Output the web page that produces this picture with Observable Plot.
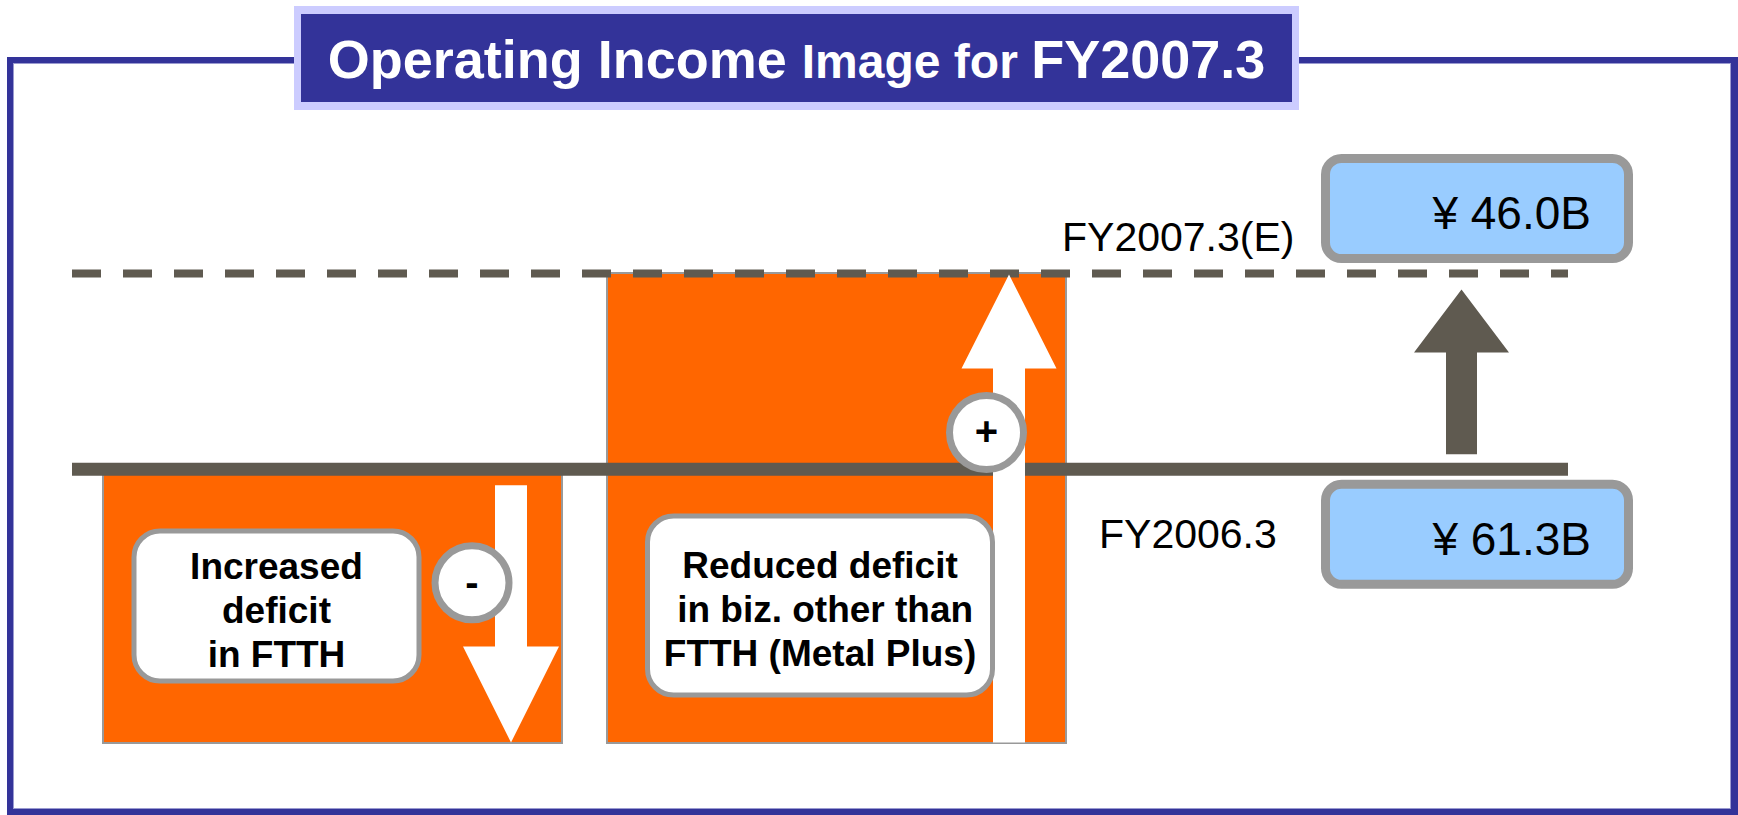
<!DOCTYPE html>
<html>
<head>
<meta charset="utf-8">
<script src="https://cdn.jsdelivr.net/npm/d3@7"></script>
<script src="https://cdn.jsdelivr.net/npm/@observablehq/plot@0.6"></script>
<style>
  html, body { margin: 0; padding: 0; background: #fff; }
  #wrap { position: relative; width: 1738px; height: 815px; overflow: hidden;
          font-family: "Liberation Sans", Arial, Helvetica, sans-serif; }
  #chart { position: absolute; left: 0; top: 0; }
  #frame { position: absolute; left: 7px; top: 57px; width: 1731px; height: 758px;
           box-sizing: border-box; border: 6px solid #333399; border-right-width: 7px;
           box-shadow: inset 0 0 0 1px #9a9ad0; pointer-events: none; }
  #title { position: absolute; left: 294px; top: 6px; width: 1005px; height: 104px;
           box-sizing: border-box; border: 7px solid #CCCCFF; border-top-width: 8px; border-bottom-width: 8px;
           background: #333399; color: #fff; font-weight: bold; text-align: center;
           line-height: 86px; padding-top: 2px; white-space: nowrap; }
  #title .big { font-size: 54px; }
  #title .small { font-size: 48px; }
</style>
</head>
<body>
<div id="wrap">
  <div id="chart"></div>
  <div id="frame"></div>
  <div id="title"></div>
</div>
<script>
// ---------------- data ----------------
const titleParts = ["Operating Income ", "Image for ", "FY2007.3"];
const titleSizes = ["big", "small", "big"];

const periods = ["FY2006.3", "FY2007.3(E)"];
const incomeValues = [61.3, 46.0];          // ¥ billions
const periodLevels = [0, 1.0];              // schematic "image" level of each period line

const columns = ["FTTH", "Other", "Total"];
const factors = ["Increased\ndeficit\nin FTTH", "Reduced deficit\n in biz. other than\nFTTH (Metal Plus)"];
const factorSigns = ["-", "+"];
const factorChanges = [-1.4, 2.4];          // schematic size of each factor

// ---------------- tables built from the data ----------------
let level = periodLevels[0];
const steps = factors.map((label, i) => {
  const from = level;
  level += factorChanges[i];
  return {col: columns[i], label, sign: factorSigns[i], from, to: level,
          lo: Math.min(from, level), hi: Math.max(from, level)};
});
const ends = periods.map((p, i) => ({
  col: columns[2], period: p, level: periodLevels[i],
  text: "¥ " + incomeValues[i].toFixed(1) + "B"
}));

// ---------------- layout / style ----------------
const W = 1738, H = 815;
const xRange = [102, 1572];
const yDomain = d3.extent(steps.flatMap(d => [d.from, d.to]));
const yRange = [743, 273];
const yScale = Plot.scale ? Plot.scale({y: {domain: yDomain, range: yRange}}) : null;
const py = v => yScale ? yScale.apply(v) : d3.scaleLinear(yDomain, yRange)(v);

const ORANGE = "#FF6600", GREY = "#999999", DARK = "#5F5A50", BLUE = "#99CCFF";
const FONT = "Liberation Sans, Arial, Helvetica, sans-serif";

const stepStyle = [
  {arrowDx: 178, shaft: 16, head: 48, headLen: 96, startGap: 16, endGap: 1,
   boxDx: -56.5, boxDy: -137.5, boxW: 285, boxH: 150, textDy: -135,
   signDx: 139, signDy: 113.5},
  {arrowDx: 172, shaft: 16, head: 47.5, headLen: 94, startGap: 1, endGap: 1,
   boxDx: -17, boxDy: -138, boxW: 345, boxH: 179, textDy: -136,
   signDx: 149.5, signDy: 159}
];
const endStyle = [
  {boxDy: 65, valueDy: 71, labelDx: -242, labelDy: 66},
  {boxDy: -65, valueDy: -59, labelDx: -279, labelDy: -36}
];

function fatArrow(shaftHalf, headHalf, headLen, startGap, endGap) {
  return {
    draw(ctx, l) {
      const t = -(l - endGap), b = -startGap, hb = t + headLen;
      ctx.moveTo(-shaftHalf, b);
      ctx.lineTo(-shaftHalf, hb);
      ctx.lineTo(-headHalf, hb);
      ctx.lineTo(0, t);
      ctx.lineTo(headHalf, hb);
      ctx.lineTo(shaftHalf, hb);
      ctx.lineTo(shaftHalf, b);
      ctx.closePath();
    }
  };
}
function roundRect(w, h, r) {
  return {
    draw(ctx) {
      const x0 = -w / 2, y0 = -h / 2, x1 = w / 2, y1 = h / 2;
      ctx.moveTo(x0 + r, y0);
      ctx.lineTo(x1 - r, y0);
      ctx.arcTo(x1, y0, x1, y0 + r, r);
      ctx.lineTo(x1, y1 - r);
      ctx.arcTo(x1, y1, x1 - r, y1, r);
      ctx.lineTo(x0 + r, y1);
      ctx.arcTo(x0, y1, x0, y1 - r, r);
      ctx.lineTo(x0, y0 + r);
      ctx.arcTo(x0, y0, x0 + r, y0, r);
      ctx.closePath();
    }
  };
}

// ---------------- marks ----------------
const marks = [
  Plot.barY(steps, {x: "col", y1: "from", y2: "to", fill: ORANGE, stroke: GREY, strokeWidth: 2}),
  Plot.ruleY(ends, {filter: (d, i) => i === 0, y: "level", stroke: DARK, strokeWidth: 13}),
  Plot.ruleY(ends, {filter: (d, i) => i === 1, y: "level", stroke: DARK, strokeWidth: 8, strokeDasharray: "29,22"})
];

steps.forEach((d, i) => {
  const s = stepStyle[i];
  marks.push(
    Plot.vector([d], {x: "col", y: "from", anchor: "start",
      length: Math.abs(py(d.to) - py(d.from)), rotate: d.to > d.from ? 0 : 180,
      shape: fatArrow(s.shaft, s.head, s.headLen, s.startGap, s.endGap),
      fill: "white", stroke: "none", dx: s.arrowDx}),
    Plot.dot([d], {x: "col", y: "hi", r: 37, fill: "white", stroke: GREY, strokeWidth: 7,
      dx: s.signDx, dy: s.signDy}),
    Plot.text([d], {x: "col", y: "hi", text: "sign", fontSize: 40, fontWeight: "bold", fill: "#000",
      dx: s.signDx, dy: s.signDy}),
    Plot.dot([d], {x: "col", y: "lo", symbol: roundRect(s.boxW, s.boxH, 26), fill: "white",
      stroke: GREY, strokeWidth: 5, dx: s.boxDx, dy: s.boxDy}),
    Plot.text([d], {x: "col", y: "lo", text: "label", fontSize: 37, fontWeight: "bold", fill: "#000",
      lineHeight: 1.19, dx: s.boxDx, dy: s.textDy})
  );
});

// total change arrow FY2006.3 -> FY2007.3(E)
marks.push(
  Plot.vector([ends[0]], {x: "col", y: "level", anchor: "start",
    length: Math.abs(py(ends[1].level) - py(ends[0].level)),
    rotate: ends[1].level > ends[0].level ? 0 : 180,
    shape: fatArrow(15.5, 47.5, 63, 15, 16), fill: DARK, stroke: "none", dx: 120.5})
);

ends.forEach((d, i) => {
  const s = endStyle[i];
  marks.push(
    Plot.dot([d], {x: "col", y: "level", symbol: roundRect(303, 100, 16), fill: BLUE,
      stroke: GREY, strokeWidth: 9, dx: 136, dy: s.boxDy}),
    Plot.text([d], {x: "col", y: "level", text: "text", fontSize: 46, fill: "#000",
      textAnchor: "end", dx: 250, dy: s.valueDy}),
    Plot.text([d], {x: "col", y: "level", text: "period", fontSize: 41, fill: "#000",
      textAnchor: "start", dx: s.labelDx, dy: s.labelDy})
  );
});

const chart = Plot.plot({
  width: W,
  height: H,
  marginLeft: 72,
  marginRight: 170,
  marginTop: 0,
  marginBottom: 0,
  style: {fontFamily: FONT, background: "transparent", overflow: "visible"},
  x: {type: "band", domain: columns, range: xRange, paddingInner: 0.089, paddingOuter: 0, axis: null},
  y: {domain: yDomain, range: yRange, axis: null},
  marks
});
document.getElementById("chart").appendChild(chart);

const titleEl = document.getElementById("title");
titleParts.forEach((t, i) => {
  const span = document.createElement("span");
  span.className = titleSizes[i];
  span.textContent = t;
  titleEl.appendChild(span);
});
</script>
</body>
</html>
